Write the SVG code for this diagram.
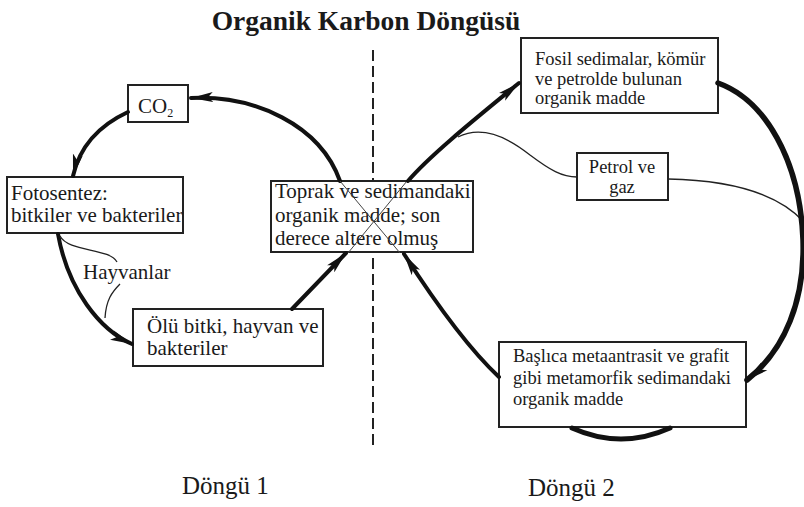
<svg xmlns="http://www.w3.org/2000/svg" width="804" height="507" viewBox="0 0 804 507">
<defs>
<style>
.box{fill:#fff;stroke:#222;stroke-width:2}
.t{font-family:"Liberation Serif","Times New Roman",serif;fill:#1a1a1a}
.l{font-size:21px}
.r{font-size:18.5px}
.thick{fill:none;stroke:#111;stroke-width:4;stroke-linecap:round}
.thin{fill:none;stroke:#222;stroke-width:1.3}
.xl{fill:none;stroke:#444;stroke-width:1}
</style>
<marker id="ah" markerUnits="userSpaceOnUse" markerWidth="24" markerHeight="11" refX="22" refY="5.5" orient="auto">
<path d="M0,0.5 L22,5.5 L0,10.5 L5,5.5 z" fill="#111"/>
</marker>
</defs>
<rect width="804" height="507" fill="#fff"/>
<text class="t" x="366" y="30" text-anchor="middle" font-size="27.5" font-weight="bold">Organik Karbon Döngüsü</text>
<line x1="373" y1="50" x2="373" y2="446" stroke="#222" stroke-width="2" stroke-dasharray="11 5"/>

<g id="co2">
<rect class="box" x="128" y="85" width="60" height="37"/>
<text class="t l" x="138" y="113">CO<tspan font-size="12" dy="4">2</tspan></text>
</g>
<g id="fotosentez">
<rect class="box" x="7" y="177" width="176" height="56"/>
<text class="t l" x="11" y="200">Fotosentez:</text>
<text class="t l" x="11" y="222">bitkiler ve bakteriler</text>
</g>
<g id="olu">
<rect class="box" x="133" y="309" width="190" height="57"/>
<text class="t l" x="147" y="333">Ölü bitki, hayvan ve</text>
<text class="t l" x="147" y="355">bakteriler</text>
</g>
<g id="toprak">
<rect class="box" x="271" y="181" width="202" height="71"/>
<text class="t l" x="275" y="198">Toprak ve sedimandaki</text>
<text class="t l" x="275" y="222">organik madde; son</text>
<text class="t l" x="275" y="245">derece altere olmuş</text>
</g>
<g id="fosil">
<rect class="box" x="521" y="38" width="197" height="75"/>
<text class="t r" x="535" y="65">Fosil sedimalar, kömür</text>
<text class="t r" x="535" y="85">ve petrolde bulunan</text>
<text class="t r" x="535" y="104">organik madde</text>
</g>
<g id="petrol">
<rect class="box" x="577" y="153" width="91" height="47"/>
<text class="t r" x="622" y="173" text-anchor="middle">Petrol ve</text>
<text class="t r" x="622" y="193" text-anchor="middle">gaz</text>
</g>
<g id="metamorfik">
<rect class="box" x="499" y="342" width="247" height="85"/>
<text class="t r" x="513" y="362">Başlıca metaantrasit ve grafit</text>
<text class="t r" x="513" y="384">gibi metamorfik sedimandaki</text>
<text class="t r" x="513" y="405">organik madde</text>
</g>
<text class="t l" x="83" y="279">Hayvanlar</text>
<text class="t" x="182" y="494" font-size="25">Döngü 1</text>
<text class="t" x="528" y="496" font-size="25">Döngü 2</text>

<g id="connectors">
<path class="thick" d="M340,181 C 320,125 255,95 191,98" marker-end="url(#ah)"/>
<path class="thick" d="M128,112 C 100,125 80,145 73,176" marker-end="url(#ah)"/>
<path class="thick" d="M58,234 C 68,290 100,330 132,344" marker-end="url(#ah)"/>
<path class="thin" d="M60,236 C 68,252 110,248 117,262"/>
<path class="thin" d="M120,284 C 112,292 106,300 105,318"/>
<path class="thick" d="M292,309 L346,253" marker-end="url(#ah)"/>
<path class="xl" d="M340,181 L400,253"/>
<path class="xl" d="M407,181 L348,253"/>
<path class="thick" d="M408,181 C 430,155 480,115 519,83" marker-end="url(#ah)"/>
<path class="thin" d="M458,137 C 480,126 505,135 530,155 C 550,170 562,177 577,177"/>
<path class="thin" d="M668,179 C 720,180 775,190 804,222"/>
<path class="thick" style="stroke-width:5.5" d="M718,83 C 765,100 800,160 803,240 C 805,300 785,350 747,380" marker-end="url(#ah)"/>
<path class="thick" style="stroke-width:5" d="M572,428 Q 621,450 670,428"/>
<path class="thick" d="M499,377 C 470,350 440,310 404,254" marker-end="url(#ah)"/>
</g>
</svg>
